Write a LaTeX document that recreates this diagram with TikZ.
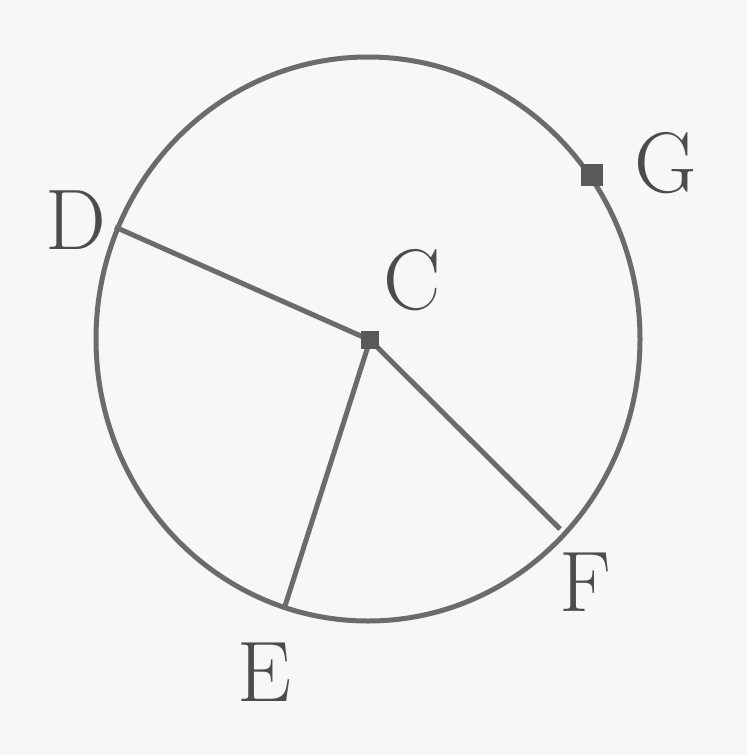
\documentclass[tikz,border=0pt]{standalone}
\begin{document}
\begin{tikzpicture}[x=1pt,y=-1pt,
  ln/.style={draw=black!58,line width=5pt},
  lbl/.style={text=black!70,font=\fontsize{86}{86}\selectfont,inner sep=0pt}]
\useasboundingbox[fill=black!3] (0,0) rectangle (747,755);
\coordinate (C) at (370,340);
\coordinate (D) at (115,227);
\coordinate (E) at (285,606);
\coordinate (F) at (560,529);
\coordinate (G) at (592,175);
\draw[ln] (368,339) ellipse [x radius=272,y radius=282];
\draw[ln] (D) -- (C) -- (F);
\draw[ln] (C) -- (E);
\fill[black!65] (C) ++(-9,-9) rectangle ++(18,18);
\fill[black!65] (G) ++(-11,-11) rectangle ++(22,22);
\node[lbl] (lD) at (76,220) {D};
\node[lbl] (lC) at (412,280) {C};
\node[lbl] (lG) at (666,163) {G};
\node[lbl] (lF) at (585,582) {F};
\node[lbl] (lE) at (265,672) {E};
\end{tikzpicture}
\end{document}
